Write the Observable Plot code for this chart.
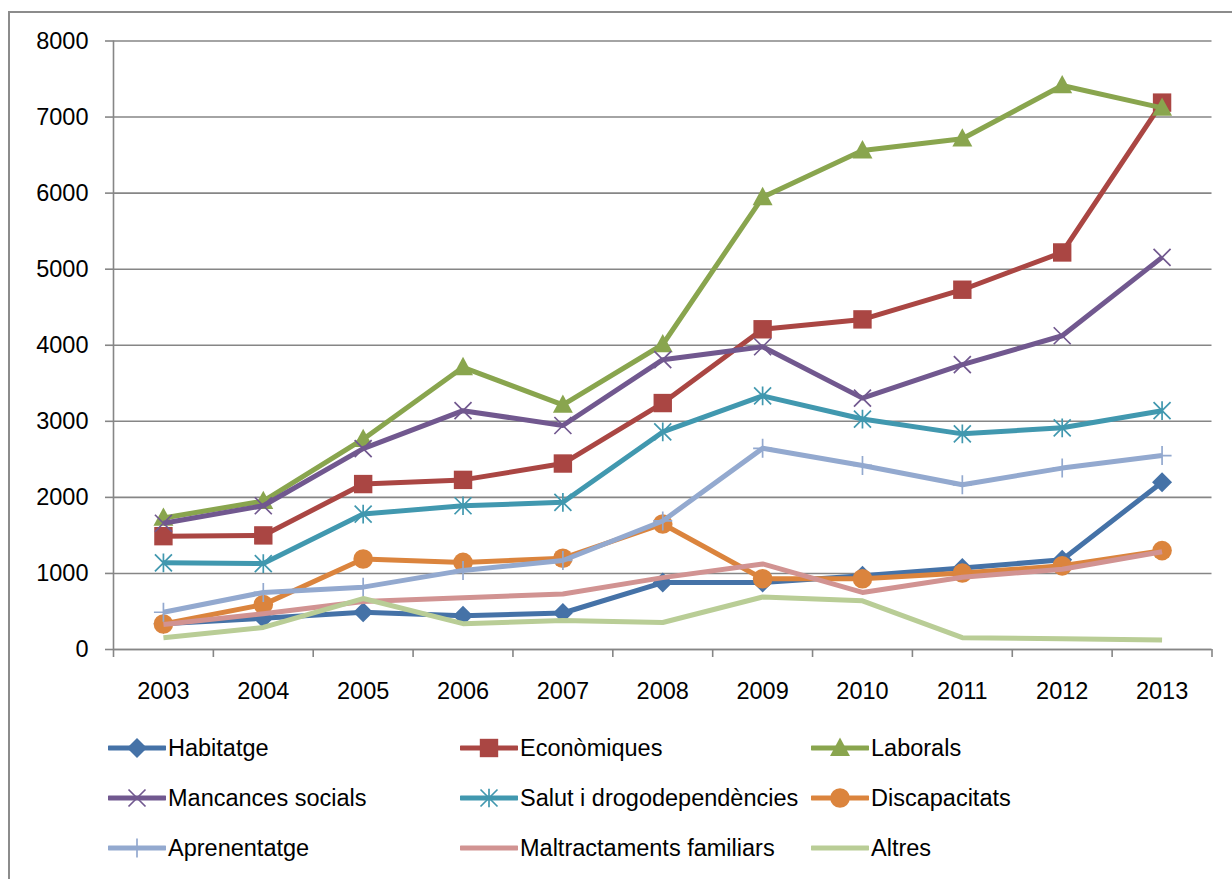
<!DOCTYPE html>
<html><head><meta charset="utf-8">
<script src="https://cdn.jsdelivr.net/npm/d3@7"></script>
<script src="https://cdn.jsdelivr.net/npm/@observablehq/plot@0.6"></script>
<style>
html,body{margin:0;padding:0;background:#fff;overflow:hidden;width:1232px;height:879px}
body{position:relative;font-family:"Liberation Sans",Arial,sans-serif}
#frame{position:absolute;left:8px;top:11px;width:1400px;height:1000px;border-left:2px solid #8c8c8c;border-top:2px solid #8c8c8c;pointer-events:none}
#chart svg{display:block}
#legend{display:grid;grid-template-columns:352px 351px 300px;grid-auto-rows:50px;padding-left:108px;padding-top:3px;font-size:23.5px;color:#000}
.item{display:flex;align-items:center;white-space:nowrap}
.item svg{flex:none;margin-right:2px}
</style></head>
<body>
<div id="chart"></div>
<div id="legend"></div>
<div id="frame"></div>
<script>
const years = [2003, 2004, 2005, 2006, 2007, 2008, 2009, 2010, 2011, 2012, 2013];
const yTicks = [0, 1000, 2000, 3000, 4000, 5000, 6000, 7000, 8000];
const seriesNames = ["Habitatge", "Econòmiques", "Laborals", "Mancances socials", "Salut i drogodependències", "Discapacitats", "Aprenentatge", "Maltractaments familiars", "Altres"];
const habitatge = [340, 410, 490, 445, 480, 880, 880, 970, 1070, 1180, 2200];
const economiques = [1490, 1500, 2175, 2230, 2445, 3240, 4210, 4340, 4730, 5220, 7190];
const laborals = [1730, 1950, 2765, 3710, 3215, 4010, 5945, 6560, 6715, 7415, 7120];
const mancances = [1660, 1890, 2640, 3140, 2945, 3810, 3980, 3305, 3745, 4125, 5155];
const salut = [1140, 1130, 1780, 1890, 1935, 2860, 3335, 3030, 2835, 2915, 3140];
const discapacitats = [335, 590, 1190, 1145, 1200, 1650, 930, 930, 1005, 1100, 1300];
const aprenentatge = [490, 750, 820, 1040, 1170, 1690, 2645, 2420, 2165, 2385, 2550];
const maltractaments = [330, 470, 630, 680, 730, 945, 1125, 750, 950, 1055, 1285];
const altres = [155, 290, 670, 340, 380, 355, 690, 640, 155, 140, 125];

const seriesValues = [habitatge, economiques, laborals, mancances, salut, discapacitats, aprenentatge, maltractaments, altres];
const seriesColors = ["#4572A7", "#AA4643", "#89A54E", "#71588F", "#4198AF", "#DB843D", "#93A9CF", "#D19392", "#B9CD96"];
const seriesMarkers = ["diamond", "square", "triangle", "times", "asterisk", "circle", "plus", null, null];

// custom symbols (r = Plot radius)
const R = s => Math.sqrt(s / Math.PI);
const symbols = {
  diamond: {draw(c, s){const r = R(s); c.moveTo(0,-r); c.lineTo(r,0); c.lineTo(0,r); c.lineTo(-r,0); c.closePath();}},
  square: {draw(c, s){const r = R(s)*0.92; c.moveTo(-r,-r); c.lineTo(r,-r); c.lineTo(r,r); c.lineTo(-r,r); c.closePath();}},
  triangle: {draw(c, s){const r = R(s)*1.05; c.moveTo(0,-r*1.0); c.lineTo(r*0.95,r*0.75); c.lineTo(-r*0.95,r*0.75); c.closePath();}},
  circle: {draw(c, s){const r = R(s)*0.98; c.moveTo(r,0); c.arc(0,0,r,0,2*Math.PI); c.closePath();}},
  times: {draw(c, s){const r = R(s)*0.85; c.moveTo(-r,-r); c.lineTo(r,r); c.moveTo(r,-r); c.lineTo(-r,r);}},
  asterisk: {draw(c, s){const r = R(s)*0.85; c.moveTo(-r,-r); c.lineTo(r,r); c.moveTo(r,-r); c.lineTo(-r,r); c.moveTo(0,-r*1.1); c.lineTo(0,r*1.1);}},
  plus: {draw(c, s){const r = R(s)*0.95; c.moveTo(0,-r); c.lineTo(0,r); c.moveTo(-r,0); c.lineTo(r,0);}}
};
const strokeSymbols = new Set(["times", "asterisk", "plus"]);

const bounds = years.map(y => y - 0.5).concat([years[years.length-1] + 0.5]);
const gray = "#868686";

const marks = [
  Plot.gridY(yTicks, {stroke: gray, strokeOpacity: 1, strokeWidth: 1.6}),
  Plot.ruleX([bounds[0]], {stroke: gray, strokeWidth: 1.6}),
  Plot.ruleY([0], {stroke: gray, strokeWidth: 1.6}),
  Plot.axisY(yTicks, {label: null, tickSize: 8, tickPadding: 17, stroke: gray, strokeWidth: 1.6, fill: "#000", fontSize: 23.5, tickFormat: d => String(d)}),
  Plot.axisX(bounds, {label: null, tickSize: 8, stroke: gray, strokeWidth: 1.6, tickFormat: () => ""}),
  Plot.axisX(years, {label: null, tickSize: 0, tickPadding: 33, fill: "#000", fontSize: 23.5, tickFormat: d => String(d)})
];

seriesNames.forEach((name, k) => {
  const rows = years.map((yr, i) => ({year: yr, value: seriesValues[k][i]}));
  marks.push(Plot.line(rows, {x: "year", y: "value", stroke: seriesColors[k], strokeWidth: 5, strokeLinejoin: "round", strokeLinecap: "butt"}));
  const m = seriesMarkers[k];
  if (m) {
    const isStroke = strokeSymbols.has(m);
    marks.push(Plot.dot(rows, {x: "year", y: "value", r: 10, symbol: symbols[m],
      fill: isStroke ? "none" : seriesColors[k], stroke: isStroke ? seriesColors[k] : "none", strokeWidth: isStroke ? 1.7 : 0}));
  }
});

const chart = Plot.plot({
  width: 1232, height: 720,
  marginLeft: 113, marginRight: 20.5, marginTop: 40.5, marginBottom: 71,
  style: {fontFamily: "'Liberation Sans', Arial, sans-serif", fontSize: "23.5px", background: "transparent", color: "#000"},
  x: {domain: [bounds[0], bounds[bounds.length-1]], axis: null},
  y: {domain: [0, 8000], axis: null},
  marks
});
document.getElementById("chart").appendChild(chart);

// legend
const legend = document.getElementById("legend");
seriesNames.forEach((name, k) => {
  const item = document.createElement("div");
  item.className = "item";
  const m = seriesMarkers[k];
  let markerSvg = "";
  if (m) {
    const p = d3.path();
    symbols[m].draw(p, Math.PI * 100);
    const isStroke = strokeSymbols.has(m);
    markerSvg = `<path transform="translate(29,14)" d="${p.toString()}" fill="${isStroke ? "none" : seriesColors[k]}" stroke="${isStroke ? seriesColors[k] : "none"}" stroke-width="1.7"/>`;
  }
  item.innerHTML = `<svg width="58" height="28"><line x1="1" x2="57" y1="14" y2="14" stroke="${seriesColors[k]}" stroke-width="5" stroke-linecap="round"/>${markerSvg}</svg><span>${name}</span>`;
  legend.appendChild(item);
});
</script>
</body></html>
